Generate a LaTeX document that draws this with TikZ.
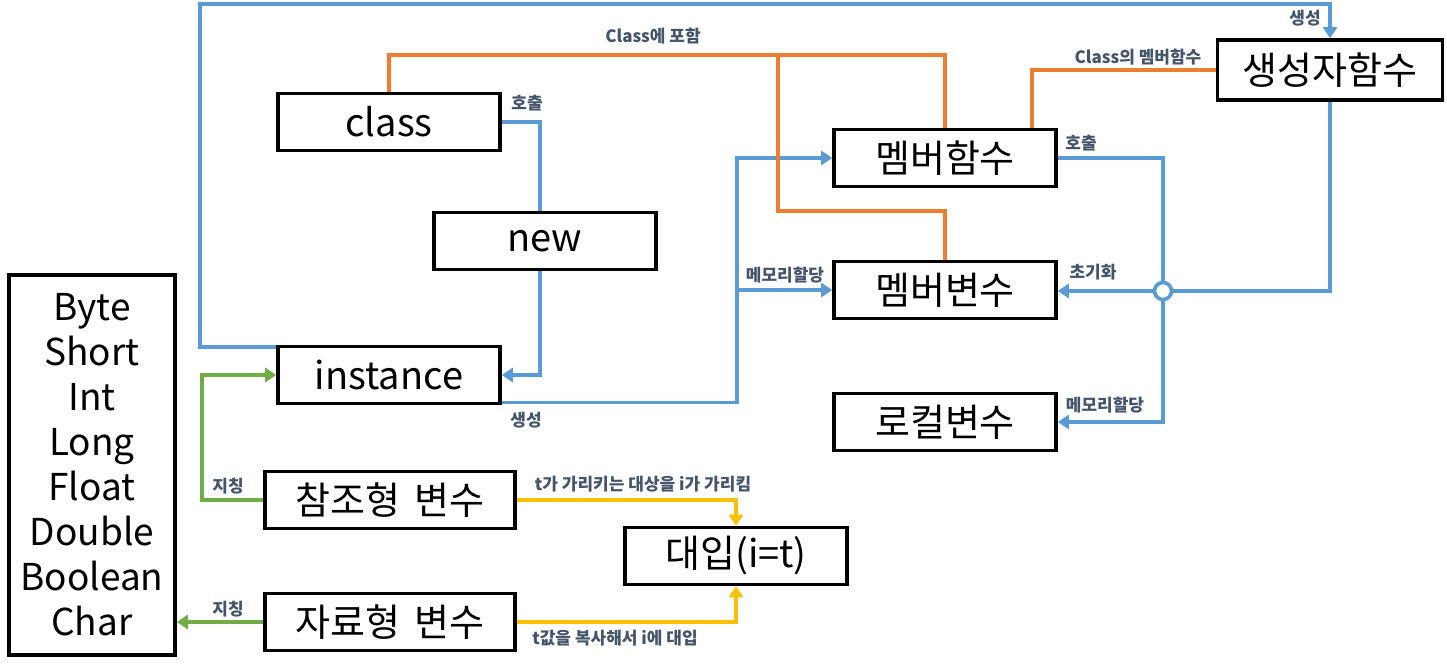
\documentclass[tikz,border=0pt]{standalone}
\usepackage{fontspec}
\setmainfont{Noto Sans CJK KR}
\usetikzlibrary{arrows.meta,calc}
\definecolor{linkblue}{HTML}{5B9BD5}
\definecolor{linkorange}{HTML}{ED7D31}
\definecolor{linkgreen}{HTML}{70AD47}
\definecolor{linkyellow}{HTML}{FFC000}
\definecolor{labelgray}{HTML}{44546A}

\begin{document}
\begin{tikzpicture}[x=1pt,y=-1pt]
\tikzset{box/.style={draw,line width=3.6pt,minimum width=222pt,minimum height=57pt,inner sep=0pt,font=\fontsize{38}{45}\selectfont}}
\tikzset{lbl/.style={inner sep=0pt,text=labelgray,font=\bfseries\fontsize{17}{19}\selectfont}}
\tikzset{bline/.style={draw=linkblue,line width=3.6pt}}
\tikzset{oline/.style={draw=linkorange,line width=3.6pt}}
\tikzset{gline/.style={draw=linkgreen,line width=3.6pt}}
\tikzset{yline/.style={draw=linkyellow,line width=3.6pt}}
\tikzset{tip/.style={-{Triangle[length=11pt,width=14pt]}}}
\useasboundingbox (0,0) rectangle (1447,667);

\node[box] (cls) at (389,122) {class};
\node[box] (new) at (545,241) {new};
\node[box] (inst) at (389,375) {instance};
\node[box] (mfunc) at (945,158) {멤버함수};
\node[box] (mvar) at (945,290) {멤버변수};
\node[box] (lvar) at (945,422) {로컬변수};
\node[box,minimum width=225pt,minimum height=60pt] (ctor) at (1330,70) {생성자함수};
\node[box,minimum width=166pt,minimum height=380pt,align=center,font=\fontsize{37}{45}\selectfont] (types) at (92,465)
  {Byte\\Short\\Int\\Long\\Float\\Double\\Boolean\\Char};
\node[box,minimum width=250pt] (refvar) at (390,500) {참조형\hspace{14pt}변수};
\node[box,minimum width=250pt] (valvar) at (390,622) {자료형\hspace{14pt}변수};
\node[box] (assign) at (736,556) {대입(i=t)};
\node[circle,draw=linkblue,fill=white,line width=3.6pt,minimum size=17pt,inner sep=0pt] (junc) at (1163,291) {};

% blue
\draw[bline,tip] ([yshift=-2pt]inst.north west) -| (200,4) -| (ctor.north);
\draw[bline] (cls.east) -| ([xshift=-5pt]new.north);
\draw[bline,tip] ([xshift=-5pt]new.south) |- (inst.east);
\coordinate (split) at (737,290);
\draw[bline,tip] ([yshift=3pt]inst.south east) -| (split) |- (mfunc.west);
\draw[bline,tip] (split) -- (mvar.west);
\draw[bline] (mfunc.east) -| (junc.north);
\draw[bline] (ctor.south) |- (junc.east);
\draw[bline,tip] (junc.west) -- (junc.west -| mvar.east);
\draw[bline,tip] (junc.south) |- (lvar.east);

% orange
\coordinate (obranch) at (778,55);
\draw[oline] (cls.north) |- (obranch) -| (mfunc.north);
\draw[oline] (obranch) -- (778,211) -| (mvar.north);
\draw[oline] (ctor.west) -| ([xshift=87pt]mfunc.north);

% green
\draw[gline,tip] (refvar.west) -- ++(-61,0) |- (inst.west);
\draw[gline,tip] (valvar.west) -- (valvar.west -| types.east);

% yellow
\draw[yline,tip] (refvar.east) -| (assign.north);
\draw[yline,tip] (valvar.east) -| (assign.south);

\node[lbl] (l1) at (653,36) {Class에 포함};
\node[lbl] (l2) at (1138,57) {Class의 멤버함수};
\node[lbl] (l3) at (527,103) {호출};
\node[lbl] (l4) at (1305,18) {생성};
\node[lbl] (l5) at (1081,143) {호출};
\node[lbl] (l6) at (785,275) {메모리할당};
\node[lbl] (l7) at (1093,272) {초기화};
\node[lbl] (l8) at (1105,405) {메모리할당};
\node[lbl] (l9) at (526,420) {생성};
\node[lbl] (l10) at (228,486) {지칭};
\node[lbl] (l11) at (228,609) {지칭};
\node[lbl] (l12) at (643,484) {t가 가리키는 대상을 i가 가리킴};
\node[lbl] (l13) at (615,638) {t값을 복사해서 i에 대입};
\end{tikzpicture}
\end{document}
